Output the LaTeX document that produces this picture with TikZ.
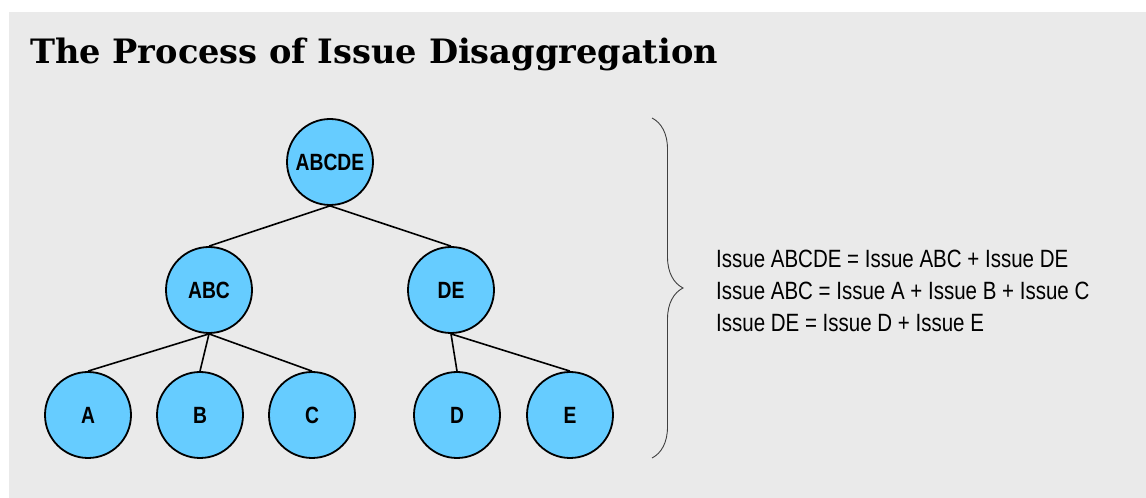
\documentclass[tikz,border=0pt]{standalone}
\usepackage{fontspec}
\setmainfont{Liberation Sans}
\newfontfamily\titlefont{DejaVu Serif}
\newfontfamily\narrowfont[FakeStretch=0.82]{Liberation Sans}
\usepackage{tikz}
\usetikzlibrary{positioning}
\usetikzlibrary{decorations.pathreplacing}

\definecolor{panelgray}{HTML}{EAEAEA}
\definecolor{issueblue}{HTML}{66CCFF}

\begin{document}
\begin{tikzpicture}[x=1pt,y=1pt,node distance=128pt,
  issue/.style={circle,draw=black,line width=1.8pt,fill=issueblue,minimum size=86pt,inner sep=0pt,font=\narrowfont\bfseries\fontsize{23.5}{23.5}\selectfont},
  link/.style={line width=1.6pt}]
\useasboundingbox (0,0) rectangle (1146,498);
\fill[panelgray] (9,0) rectangle (1146,486);
\node[anchor=base west,inner sep=0pt,font=\titlefont\bfseries\fontsize{33.6}{33.6}\selectfont] (title) at (30,434) {The Process of Issue Disaggregation};
% the tree
\node[issue] (abcde) at (330,336) {ABCDE};
\node[issue] (abc) [below of=abcde,xshift=-121pt] {ABC};
\node[issue] (de) [below of=abcde,xshift=121pt] {DE};
\begin{scope}[node distance=125pt]
\node[issue] (a) [below of=abc,xshift=-121pt] {A};
\node[issue] (b) [below of=abc,xshift=-9pt] {B};
\node[issue] (c) [below of=abc,xshift=103pt] {C};
\node[issue] (d) [below of=de,xshift=6pt] {D};
\node[issue] (e) [below of=de,xshift=119pt] {E};
\end{scope}
\path[link]
    (abcde.south) edge (abc.north)
    (abcde.south) edge (de.north)
    (abc.south) edge (a.north)
    (abc.south) edge (b.north)
    (abc.south) edge (c.north)
    (de.south) edge (d.north)
    (de.south) edge (e.north)
;
% brace and the sums
\coordinate (bracetop) at (652,380);
\coordinate (bracebot) at (652,40);
\draw[black!75,line width=0.9pt,decorate,decoration={brace,amplitude=31pt}] (bracetop) -- (bracebot);
\node[anchor=west,align=left,inner sep=0pt,font=\narrowfont\fontsize{25}{32}\selectfont] (sums) at (716,207) {Issue ABCDE = Issue ABC + Issue DE\\Issue ABC = Issue A + Issue B + Issue C\\Issue DE = Issue D + Issue E};
\end{tikzpicture}
\end{document}
